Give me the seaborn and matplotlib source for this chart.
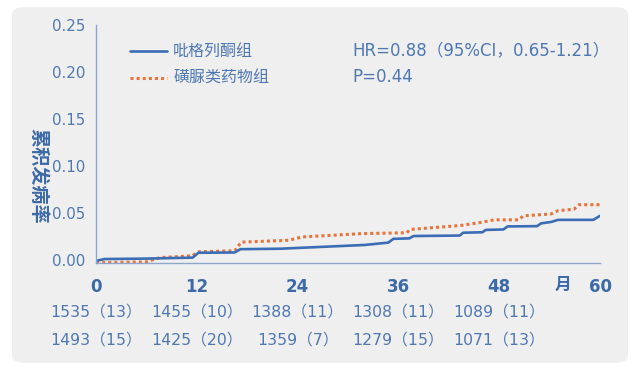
import matplotlib
matplotlib.use('Agg')
import matplotlib.pyplot as plt
import seaborn as sns
import pandas as pd
from matplotlib.patches import FancyBboxPatch

# 累积发病率曲线
pio_months = [0, 1, 6, 11.5, 12.2, 16.5, 17.2, 22, 27, 32, 34.8, 35.4, 37.3, 37.8,
              43.3, 43.7, 46.0, 46.4, 48.5, 49.0, 52.5, 53.0, 54.2, 55.0, 59.2, 60]
pio_rate = [-0.001, 0.001, 0.0015, 0.0025, 0.0077, 0.008, 0.0115, 0.012, 0.014, 0.016,
            0.0185, 0.0225, 0.023, 0.0255, 0.026, 0.029, 0.0295, 0.032, 0.0325, 0.0357,
            0.036, 0.039, 0.0405, 0.0427, 0.0427, 0.047]

su_months = [0, 6, 7.6, 11.5, 12.1, 16.5, 17.3, 23, 24.5, 31.5, 37, 37.4, 43.4, 45.8,
             47.4, 50.3, 50.9, 54.2, 55.0, 56.9, 57.5, 60]
su_rate = [-0.003, -0.002, 0.0025, 0.0045, 0.0087, 0.0098, 0.019, 0.021, 0.0245, 0.028,
           0.029, 0.0325, 0.0367, 0.040, 0.0427, 0.0427, 0.047, 0.049, 0.0525, 0.054,
           0.0588, 0.0588]

x_ticks = [0, 12, 24, 36, 48, 60]
y_ticks = [0.00, 0.05, 0.10, 0.15, 0.20, 0.25]
risk_pio = ['1535（13）', '1455（10）', '1388（11）', '1308（11）', '1089（11）']
risk_su = ['1493（15）', '1425（20）', '1359（7）', '1279（15）', '1071（13）']

blue = '#3a6db5'
orange = '#e8743b'
txt_blue = '#4f78b3'
dark_blue = '#3c6aa8'

sns.set_style('white')
plt.rcParams['font.family'] = ['DejaVu Sans', 'Noto Sans CJK SC']

fig = plt.figure(figsize=(6.4, 3.75), dpi=100)
fig.patch.set_facecolor('white')

# 灰色圆角背景
bg = FancyBboxPatch((12 / 640, 1 - 363 / 375), 616 / 640, 356 / 375,
                    boxstyle='round,pad=0,rounding_size=0.02',
                    transform=fig.transFigure, facecolor='#efefef',
                    edgecolor='none', zorder=-5)
fig.patches.append(bg)

ax = fig.add_axes([96 / 640, 1 - 263 / 375, 504 / 640, 238 / 375])
ax.set_facecolor('none')
ax.set_zorder(2)

df_pio = pd.DataFrame({'month': pio_months, 'rate': pio_rate})
df_su = pd.DataFrame({'month': su_months, 'rate': su_rate})

sns.lineplot(data=df_su, x='month', y='rate', ax=ax, color=orange, lw=2.2,
             linestyle=(0, (1, 1)), estimator=None, sort=False)
sns.lineplot(data=df_pio, x='month', y='rate', ax=ax, color=blue, lw=1.9,
             estimator=None, sort=False)

ax.set_xlim(0, 60)
ax.set_ylim(-0.0032, 0.25)
ax.set_yticks(y_ticks)
ax.set_yticklabels([f'{v:.2f}' for v in y_ticks])
ax.set_xticks(x_ticks)
ax.set_xticklabels([str(v) for v in x_ticks])
ax.tick_params(axis='y', length=3, color='#8fa6cc', labelsize=10.8, labelcolor=txt_blue, pad=5)
ax.tick_params(axis='x', length=0, labelsize=12, labelcolor=dark_blue, pad=11)
for lab in ax.get_xticklabels():
    lab.set_fontweight('bold')
ax.set_xlabel('')
ax.set_ylabel('')

for s in ['top', 'right']:
    ax.spines[s].set_visible(False)
for s in ['left', 'bottom']:
    ax.spines[s].set_color('#8fa6cc')
    ax.spines[s].set_linewidth(1)

# y 轴标题
fig.text(38 / 640, 1 - 176 / 375, '累积发病率', rotation=-90, ha='center', va='center',
         fontsize=13.8, fontweight='bold', color=dark_blue)

# 图例
ax.plot([0.068, 0.14], [0.89, 0.89], transform=ax.transAxes, color=blue, lw=1.9)
ax.plot([0.068, 0.14], [0.777, 0.777], transform=ax.transAxes, color=orange, lw=2.2,
        linestyle=(0, (1, 1)))
ax.text(0.153, 0.89, '吡格列酮组', transform=ax.transAxes, va='center', fontsize=11.5, color=txt_blue)
ax.text(0.153, 0.777, '磺脲类药物组', transform=ax.transAxes, va='center', fontsize=11.5, color=txt_blue)
ax.text(0.508, 0.895, 'HR=0.88（95%CI，0.65-1.21）', transform=ax.transAxes, va='center',
        fontsize=12, color=txt_blue)
ax.text(0.508, 0.78, 'P=0.44', transform=ax.transAxes, va='center', fontsize=12, color=txt_blue)

# 月
fig.text(563 / 640, 1 - 285 / 375, '月', ha='center', va='center', fontsize=12,
         fontweight='bold', color=dark_blue)

# 风险人数表
trans = matplotlib.transforms.blended_transform_factory(ax.transData, fig.transFigure)
for i, (a, b) in enumerate(zip(risk_pio, risk_su)):
    ax.text(x_ticks[i], 1 - 312 / 375, a, transform=trans, ha='center', va='center',
            fontsize=11.3, color=txt_blue, clip_on=False)
    ax.text(x_ticks[i], 1 - 340 / 375, b, transform=trans, ha='center', va='center',
            fontsize=11.3, color=txt_blue, clip_on=False)

plt.savefig('out.png', dpi=100, facecolor='white')
